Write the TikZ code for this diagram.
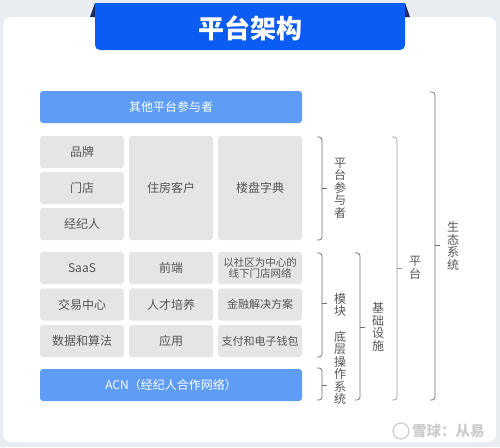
\documentclass[tikz,border=0pt]{standalone}
\usepackage{fontspec}
\newfontfamily\cjk{Noto Sans CJK SC}

\definecolor{bgcol}{HTML}{E9EDF1}
\definecolor{titleblue}{HTML}{0A5CF2}
\definecolor{navy}{HTML}{1A2C5B}
\definecolor{lightblue}{HTML}{5E9CF6}
\definecolor{boxgrey}{HTML}{E5E5E5}
\definecolor{txtgrey}{HTML}{555555}
\definecolor{brkgrey}{HTML}{6E6E6E}
\definecolor{markgrey}{HTML}{CDCDCD}

\tikzset{
  gbox/.style={fill=boxgrey, rounded corners=3pt, inner sep=0pt, text=txtgrey,
    minimum width=84pt, minimum height=32pt, align=center,
    font=\cjk\fontsize{12}{14}\selectfont},
  bbox/.style={fill=lightblue, rounded corners=3pt, inner sep=0pt, text=white,
    minimum width=262pt, minimum height=32pt,
    font=\cjk\fontsize{12}{14}\selectfont},
  vlabel/.style={text=txtgrey, align=center, inner sep=0pt,
    font=\cjk\fontsize{12}{12.5}\selectfont},
  brk/.style={draw=brkgrey, line width=0.7pt, rounded corners=3pt},
}

\begin{document}
\begin{tikzpicture}[x=1pt,y=-1pt]
\useasboundingbox (0,0) rectangle (500,447);
\fill[bgcol] (0,0) rectangle (500,447);
\fill[white, rounded corners=8pt] (3,17) rectangle (496,442);

%% title
\fill[navy] (90,17) -- (95,3) -- (95,17) -- cycle;
\fill[navy] (410,17) -- (405,3) -- (405,17) -- cycle;
\fill[titleblue, rounded corners=5pt] (95,3) -- (95,50) -- (405,50) -- (405,3);
\fill[titleblue] (95,3) rectangle (405,20);
\node[text=white, font=\cjk\bfseries\fontsize{26}{28}\selectfont] (title) at (250,28) {平台架构};

%% nodes
\node[bbox] (other) at (171,107) {其他平台参与者};
\node[gbox] (brand) at (82,152) {品牌};
\node[gbox] (store) at (82,188) {门店};
\node[gbox] (agent) at (82,224) {经纪人};
\node[gbox, minimum height=104pt] (client) at (171,188) {住房客户};
\node[gbox, minimum height=104pt] (dict) at (260,188) {楼盘字典};

\node[gbox] (saas) at (82,268) {SaaS};
\node[gbox] (front) at (171,268) {前端};
\node[gbox, font=\cjk\fontsize{10.5}{11.5}\selectfont] (net) at (260,268) {以社区为中心的\\线下门店网络};
\node[gbox] (trade) at (82,304.5) {交易中心};
\node[gbox] (talent) at (171,304.5) {人才培养};
\node[gbox, font=\cjk\fontsize{11}{13}\selectfont] (fin) at (260,304.5) {金融解决方案};
\node[gbox] (data) at (82,341) {数据和算法};
\node[gbox] (app) at (171,341) {应用};
\node[gbox, font=\cjk\fontsize{11}{13}\selectfont] (pay) at (260,341) {支付和电子钱包};
\node[bbox] (acn) at (171,385) {ACN（经纪人合作网络）};

%%% brackets
\draw[brk] (317,137) -- (322,137) -- (322,240) -- (317,240);
\draw[brk] (322,188) -- (327,188);
\draw[brk] (317,253) -- (322,253) -- (322,357) -- (317,357);
\draw[brk] (322,303) -- (327,303);
\draw[brk] (317,368) -- (322,368) -- (322,400) -- (317,400);
\draw[brk] (322,385) -- (327,385);
\draw[brk] (355,253) -- (360,253) -- (360,400) -- (355,400);
\draw[brk] (360,327) -- (365,327);
\draw[brk, draw=brkgrey!70] (392,137) -- (397,137) -- (397,400) -- (392,400);
\draw[brk, draw=brkgrey!70] (397,268) -- (402,268);
\draw[brk] (430,92) -- (435,92) -- (435,400) -- (430,400);
\draw[brk] (435,245) -- (440,245);

%% labels
\node[vlabel] (lpart) at (340,188) {平\\台\\参\\与\\者};
\node[vlabel] (lmod) at (340,305) {模\\块};
\node[vlabel] (los) at (340,368) {底\\层\\操\\作\\系\\统};
\node[vlabel] (lbase) at (378,327) {基\\础\\设\\施};
\node[vlabel] (lplat) at (415,268) {平\\台};
\node[vlabel] (leco) at (453,246) {生\\态\\系\\统};

%% watermark
\draw[markgrey, line width=1.2pt] (401,431) circle (8pt);
\node[text=markgrey, font=\cjk\bfseries\fontsize{14.5}{16}\selectfont, anchor=west, inner sep=0pt] (mark) at (412,431) {雪球：从易};
\end{tikzpicture}
\end{document}
